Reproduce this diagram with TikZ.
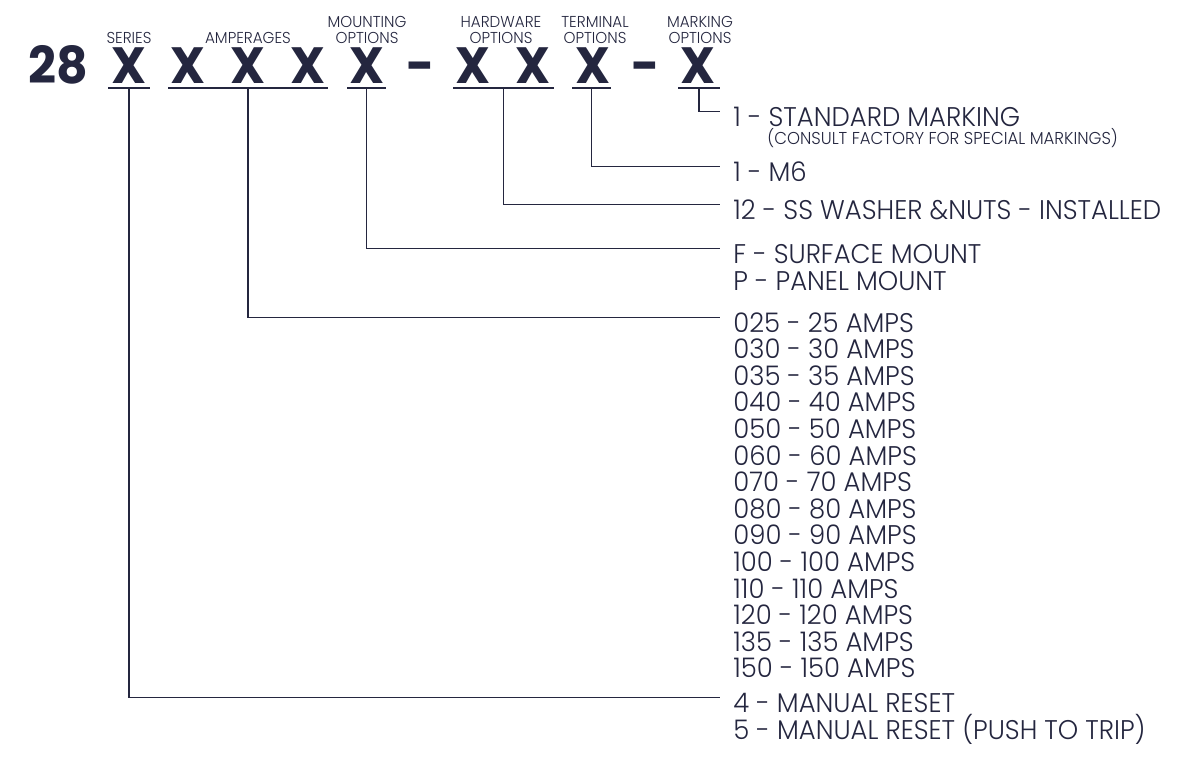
\documentclass[tikz,border=0pt]{standalone}
\usepackage{fontspec}
\setmainfont{Poppins}[UprightFont=* Light,BoldFont=* Bold,FakeStretch=0.96]
\usepackage{tikz}
\usetikzlibrary{positioning}
\definecolor{pnInk}{HTML}{24263F}
\tikzset{
  % big bold part number characters
  code/.style={font=\fontsize{25.5}{25.5}\selectfont\bfseries,
    text=pnInk,inner sep=0pt,anchor=base},
  % small captions above the characters
  head/.style={font=\fontsize{7.9}{8}\selectfont,
    text=pnInk,inner sep=0pt,anchor=base,align=center},
  % option lines on the right
  opt/.style={font=\fontsize{13.5}{13.5}\selectfont,
    text=pnInk,inner sep=0pt,anchor=base west,
    text height=14.5pt,text depth=0pt},
  % small remark line
  note/.style={font=\fontsize{8.6}{8.6}\selectfont,
    text=pnInk,inner sep=0pt,anchor=base west},
  % lines
  uline/.style={line width=0.7pt,draw=pnInk},
  conn/.style={line width=0.7pt,draw=pnInk,shorten >=6.5pt},
}
\begin{document}
\begin{tikzpicture}[x=0.5pt,y=-0.5pt]
  \useasboundingbox (0,0) rectangle (1192,761);

  % part number
  \node[code] (pre) at (58,83) {28};
  \node[code] (xs) at (129,83) {X};
  \node[code] (xa1) at (188,83) {X};
  \node[code] (xa2) at (248,83) {X};
  \node[code] (xa3) at (308,83) {X};
  \node[code] (xm) at (367,83) {X};
  \node[code] (d1) at (421,83) {-};
  \node[code] (xh1) at (473,83) {X};
  \node[code] (xh2) at (533,83) {X};
  \node[code] (xt) at (593,83) {X};
  \node[code] (d2) at (646,83) {-};
  \node[code] (xk) at (698,83) {X};

  % captions
  \node[head] (hs) at (129,43) {SERIES};
  \node[head] (ha) at (248,43) {AMPERAGES};
  \node[head] (hm) at (367,43) {MOUNTING\\OPTIONS};
  \node[head] (hh) at (501,43) {HARDWARE\\OPTIONS};
  \node[head] (ht) at (595,43) {TERMINAL\\OPTIONS};
  \node[head] (hk) at (700,43) {MARKING\\OPTIONS};

  % underlines
  \draw[uline] (108,88) -- coordinate (us) (150,88);
  \draw[uline] (168,88) -- coordinate (ua) (328,88);
  \draw[uline] (347,88) -- coordinate (um) (386,88);
  \draw[uline] (453,88) -- coordinate (uh) (554,88);
  \draw[uline] (572,88) -- coordinate (ut) (611,88);
  \draw[uline] (678,88) -- coordinate (uk) (720,88);

  % options
  \node[opt] (mk1) at (733,126) {1 - STANDARD MARKING};
  \node[note] (mk2) at (767,144) {(CONSULT FACTORY FOR SPECIAL MARKINGS)};
  \node[opt] (tm1) at (733,181) {1 - M6};
  \node[opt] (hw1) at (733,219) {12 - SS WASHER \&NUTS - INSTALLED};
  \node[opt] (mt1) at (733,263) {F - SURFACE MOUNT};
  \node[opt] (mt2) at (733,290) {P - PANEL MOUNT};
  \foreach \c/\a [count=\i from 0] in {025/25,030/30,035/35,040/40,050/50,
      060/60,070/70,080/80,090/90,100/100,110/110,120/120,135/135,150/150}
    \node[opt] (am\i) at (733,332+26.6*\i) {\c\ - \a\ AMPS};
  \node[opt] (sr1) at (733,712) {4 - MANUAL RESET};
  \node[opt] (sr2) at (733,739) {5 - MANUAL RESET (PUSH TO TRIP)};

  % connectors
  \draw[conn] (uk) |- (mk1.west);
  \draw[conn] (ut) |- (tm1.west);
  \draw[conn] (uh) |- (hw1.west);
  \draw[conn] (um) |- (mt1.west);
  \draw[conn] (ua) |- (am0.west);
  \draw[conn] (us) |- (sr1.west);
\end{tikzpicture}
\end{document}
